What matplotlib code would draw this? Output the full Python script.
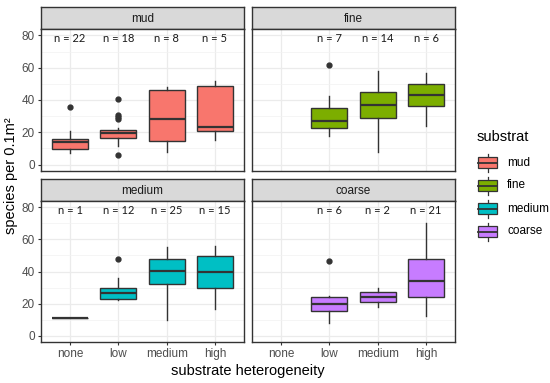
import matplotlib
matplotlib.use("Agg")
import matplotlib.pyplot as plt
from matplotlib.patches import Rectangle

plt.rcParams['font.family'] = ['Liberation Sans', 'DejaVu Sans']

heterogeneity = ["none", "low", "medium", "high"]
substrates = ["mud", "fine", "medium", "coarse"]
colors = ["#F8766D", "#7CAE00", "#00BFC4", "#C77CFF"]

# per level: (whisker low, q1, median, q3, whisker high), None = no samples
mud_boxes = [(7.2, 9.9, 14.0, 15.9, 20.6), (11.5, 16.7, 19.6, 21.6, 22.7),
             (7.8, 14.4, 28.0, 46.4, 48.0), (15.0, 20.6, 23.1, 48.7, 51.5)]
fine_boxes = [None, (17.9, 22.7, 27.0, 35.3, 42.5),
              (7.8, 28.9, 36.7, 44.7, 57.7), (23.7, 36.1, 43.1, 49.7, 56.7)]
medium_boxes = [(10.8, 10.8, 10.8, 10.8, 10.8), (22.1, 22.7, 26.5, 30.0, 36.0),
                (9.8, 32.1, 40.2, 48.1, 55.0), (16.9, 29.6, 40.0, 49.6, 55.8)]
coarse_boxes = [None, (7.9, 15.2, 19.8, 24.0, 25.0),
                (18.1, 20.8, 24.2, 27.1, 29.8), (12.1, 24.0, 34.2, 48.1, 70.2)]

mud_fliers = [[35.7], [40.8, 30.9, 29.5, 28.5, 6.0], [], []]
fine_fliers = [[], [61.6], [], []]
medium_fliers = [[], [48.1], [], []]
coarse_fliers = [[], [46.3], [], []]

mud_n = [22, 18, 8, 5]
fine_n = [None, 7, 14, 6]
medium_n = [1, 12, 25, 15]
coarse_n = [None, 6, 2, 21]

boxes = [mud_boxes, fine_boxes, medium_boxes, coarse_boxes]
fliers = [mud_fliers, fine_fliers, medium_fliers, coarse_fliers]
counts = [mud_n, fine_n, medium_n, coarse_n]

W, H = 550, 383
fig = plt.figure(figsize=(W / 100, H / 100), dpi=100)


def px_axes(x0, y0, x1, y1):
    return fig.add_axes([x0 / W, 1 - y1 / H, (x1 - x0) / W, (y1 - y0) / H])


dark = "#333333"
cols = [(41, 244), (252, 455)]
rows = [(7, 29, 171), (179, 201, 342)]

for i, name in enumerate(substrates):
    r, c = divmod(i, 2)
    x0, x1 = cols[c]
    s0, p0, p1 = rows[r]

    st = px_axes(x0, s0, x1, p0)
    st.set_facecolor("#D9D9D9")
    st.set_xticks([])
    st.set_yticks([])
    for sp in st.spines.values():
        sp.set_color(dark)
        sp.set_linewidth(1.0)
    st.text(0.5, 0.45, name, ha="center", va="center", fontsize=8.5,
            color="#1A1A1A", transform=st.transAxes)

    ax = px_axes(x0, p0, x1, p1)

    stats, pos = [], []
    for j, b in enumerate(boxes[i]):
        if b is None:
            continue
        stats.append(dict(whislo=b[0], q1=b[1], med=b[2], q3=b[3],
                          whishi=b[4], fliers=fliers[i][j]))
        pos.append(j + 1)
    ax.bxp(stats, positions=pos, widths=0.75, patch_artist=True,
           manage_ticks=False,
           boxprops=dict(facecolor=colors[i], edgecolor=dark, lw=1.0),
           medianprops=dict(color=dark, lw=1.6),
           whiskerprops=dict(color=dark, lw=1.0),
           capprops=dict(lw=0), capwidths=0,
           flierprops=dict(marker="o", markerfacecolor=dark,
                           markeredgecolor=dark, markersize=3.5))

    for j, n in enumerate(counts[i]):
        if n is not None:
            ax.text(j + 1, 78, f"n = {n}", ha="center", va="center",
                    fontsize=8, color="#1A1A1A", family=["Lato", "DejaVu Sans"])

    ax.set_xlim(0.4, 4.6)
    ax.set_ylim(-4, 84)
    ax.set_xticks(range(1, 5))
    ax.set_yticks([0, 20, 40, 60, 80])
    ax.set_yticks([10, 30, 50, 70], minor=True)
    ax.grid(True, which="major", color="#EBEBEB", lw=0.9)
    ax.grid(True, which="minor", axis="y", color="#F2F2F2", lw=0.5)
    ax.set_axisbelow(True)
    for sp in ax.spines.values():
        sp.set_color(dark)
        sp.set_linewidth(1.0)
    ax.tick_params(axis="both", which="major", length=2.5, width=0.8,
                   color=dark, labelsize=8.5, labelcolor="#4D4D4D", pad=2)
    ax.tick_params(axis="y", which="minor", length=0)
    if c == 0:
        ax.set_yticklabels(["0", "20", "40", "60", "80"])
    else:
        ax.tick_params(axis="y", length=0, labelleft=False)
    if r == 1:
        ax.set_xticklabels(heterogeneity)
    else:
        ax.tick_params(axis="x", length=0, labelbottom=False)

fig.text(248 / W, 1 - 371 / H, "substrate heterogeneity", ha="center",
         va="center", fontsize=10.5)
fig.text(11 / W, 1 - 176 / H, "species per 0.1m\u00b2", ha="center",
         va="center", rotation=90, fontsize=10.5)

# legend
lg = px_axes(465, 120, 550, 245)
lg.set_xlim(465, 550)
lg.set_ylim(245, 120)
lg.axis("off")
lg.text(477, 137, "substrat", ha="left", va="center", fontsize=10.5)
for k, (name, col) in enumerate(zip(substrates, colors)):
    yc = 162.5 + k * 23
    lg.plot([487.5, 487.5], [yc - 9, yc + 9], color=dark, lw=0.9)
    lg.add_patch(Rectangle((478, yc - 5.5), 19, 11, facecolor=col,
                           edgecolor=dark, lw=0.9, zorder=3))
    lg.plot([478, 497], [yc, yc], color=dark, lw=1.3, zorder=4)
    lg.text(507, yc, name, ha="left", va="center", fontsize=8.5)

fig.savefig("out.png", dpi=100)
